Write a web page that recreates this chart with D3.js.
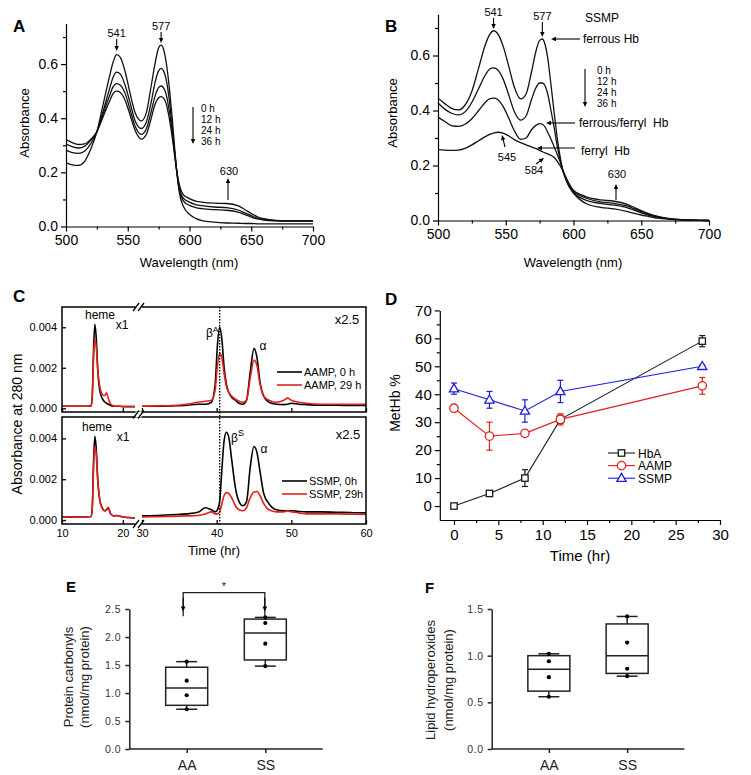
<!DOCTYPE html>
<html><head><meta charset="utf-8">
<script src="https://cdn.jsdelivr.net/npm/d3@7"></script>
<style>body{margin:0;background:#fff}</style>
</head><body><svg id="c" width="751" height="775"></svg>
<script>
// ---------------- DATA ----------------
const wl = [500,505,510,515,520,525,530,535,538,541,544,548,552,556,561,565,569,572,575,577,579,581,583,586,588,590,592,595,600,605,610,620,630,640,645,650,655,660,670,680,700];
const specA_0h  = [.235,.228,.226,.24,.285,.35,.45,.55,.605,.635,.625,.57,.49,.42,.39,.42,.52,.60,.66,.67,.655,.61,.54,.40,.29,.19,.12,.075,.045,.03,.022,.016,.013,.012,.011,.011,.01,.01,.01,.01,.01];
const specA_12h = [.282,.273,.27,.278,.305,.35,.425,.505,.55,.57,.563,.52,.455,.39,.362,.385,.46,.53,.575,.584,.575,.545,.49,.37,.275,.19,.13,.095,.078,.07,.066,.062,.06,.052,.044,.035,.028,.024,.021,.02,.02];
const specA_24h = [.304,.295,.29,.296,.318,.35,.415,.48,.515,.528,.522,.49,.43,.37,.34,.36,.425,.48,.513,.519,.512,.49,.445,.35,.27,.195,.14,.105,.09,.081,.077,.072,.07,.06,.05,.04,.031,.026,.022,.021,.021];
const specA_36h = [.321,.31,.303,.305,.322,.35,.405,.46,.49,.50,.495,.465,.41,.355,.323,.34,.40,.45,.476,.48,.474,.455,.415,.33,.26,.195,.15,.118,.103,.094,.09,.086,.085,.075,.062,.048,.036,.029,.023,.022,.022];
const specB_0h  = [.445,.425,.408,.402,.42,.47,.555,.64,.675,.69,.68,.635,.565,.49,.442,.46,.54,.61,.655,.66,.64,.59,.51,.38,.30,.235,.185,.14,.10,.075,.06,.048,.042,.032,.026,.02,.015,.01,.005,.002,0];
const specB_12h = [.427,.405,.39,.384,.395,.43,.48,.53,.55,.555,.548,.515,.46,.40,.365,.38,.44,.48,.50,.50,.49,.46,.41,.33,.27,.225,.185,.145,.10,.083,.072,.062,.056,.046,.037,.028,.02,.014,.006,.002,0];
const specB_24h = [.376,.36,.345,.342,.35,.37,.40,.43,.442,.445,.44,.415,.375,.33,.295,.30,.33,.345,.352,.35,.34,.32,.30,.265,.24,.215,.185,.15,.105,.09,.08,.068,.062,.052,.042,.032,.023,.016,.007,.003,0];
const specB_36h = [.258,.256,.255,.256,.262,.275,.29,.305,.313,.318,.321,.318,.308,.295,.283,.275,.268,.262,.255,.25,.246,.242,.238,.228,.215,.2,.182,.15,.11,.095,.085,.075,.07,.058,.047,.036,.026,.018,.008,.003,0];
const wlTicks = [500,550,600,650,700];
const wlMinor = [525,575,625,675];
const absTicks = [0,0.2,0.4,0.6];
const absMinor = [0.1,0.3,0.5,0.7];
const timeLabels = ["0 h","12 h","24 h","36 h"];

const tC1 = [10,12,14,14.8,15.0,15.2,15.4,15.6,15.9,16.2,16.6,17.0,17.3,17.6,18.0,18.5,19.0,19.5,20,21,22];
const tC2 = [30,32,34,36,37.5,38.5,39.3,39.8,40.1,40.4,40.7,41.0,41.3,41.6,42.0,42.5,43.0,43.5,44.0,44.5,45.0,45.4,45.8,46.3,47,48,49,49.5,50,51,52,54,56,58,60];
const aamp0_s1  = [.0001,.0001,.0001,.00012,.0008,.003,.00415,.0036,.0018,.0009,.0005,.00032,.00025,.0002,.00014,.0001,.0001,.0001,.00008,.00008,.00008];
const aamp29_s1 = [.0001,.0001,.0001,.00012,.0007,.0026,.0034,.0031,.0018,.0011,.0007,.00062,.00077,.0005,.0002,.00012,.0001,.0001,.0001,.0001,.0001];
const aamp0_s2  = [.0001,.0001,.00012,.00015,.0002,.0002,.0003,.0012,.0031,.004,.0034,.002,.0012,.0008,.00055,.0004,.00025,.0002,.0004,.0018,.00296,.0025,.0013,.0006,.0003,.0002,.00018,.0002,.00025,.0002,.00018,.00015,.00015,.00014,.00014];
const aamp29_s2 = [.0001,.00012,.00014,.0002,.0003,.00035,.0004,.0009,.0021,.0027,.0025,.0017,.0011,.0008,.0006,.00045,.00035,.0003,.0004,.0015,.00238,.0021,.0012,.0006,.0004,.0003,.0004,.0005,.0004,.0003,.00025,.0002,.0002,.0002,.0002];
const ssmp0_s1  = [.00015,.00015,.00015,.00017,.0008,.003,.0041,.0036,.0019,.001,.0006,.00045,.0005,.0006,.0003,.0002,.00022,.00018,.00015,.00012,.0001];
const ssmp29_s1 = [.00015,.00015,.00015,.00017,.0007,.0027,.0036,.0033,.0018,.001,.0006,.00045,.0005,.00062,.0003,.0002,.00022,.00018,.00015,.00012,.0001];
const ssmp0_s2  = [.0002,.00022,.00026,.0003,.00038,.0006,.0005,.0004,.0005,.0009,.0025,.0039,.0043,.0041,.003,.0016,.0009,.0007,.0009,.0026,.0036,.0033,.0024,.0013,.0008,.0005,.00045,.00045,.00045,.00042,.0004,.0004,.00038,.00036,.00035];
const ssmp29_s2 = [.00015,.00016,.00018,.0002,.00022,.0003,.0004,.0003,.0003,.0004,.0008,.0012,.00134,.0013,.0011,.0007,.0005,.00045,.0006,.0011,.00137,.0014,.0012,.0008,.0005,.0004,.0004,.00045,.0004,.00035,.0003,.0003,.0003,.00028,.00027];
const cTicksY = [0,0.002,0.004];
const cTicks1 = [10,20];
const cTicks2 = [30,40,50,60];

const timeD = [0,4,8,12,28];
const hbA = [0,4.5,10,31,59];      const hbAErr = [0,0.5,3,1.5,2];
const aampD = [35,25,26,31,43];    const aampErr = [0.5,5,0.5,2,3];
const ssmpD = [42,38,34,41,50];    const ssmpErr = [2,3,4,4,0.5];
const dTicksX = [0,5,10,15,20,25,30];
const dTicksY = [0,10,20,30,40,50,60,70];

const groups = ["AA","SS"];
const carbonylPts = [[0.71,0.96,1.22,1.56],[1.48,1.88,2.25,2.35]];
const carbonylBox = [[0.71,0.78,1.09,1.46,1.56],[1.48,1.59,2.07,2.32,2.35]];
const lipidPts = [[0.56,0.77,0.94,1.02],[0.78,0.86,1.14,1.42]];
const lipidBox = [[0.56,0.62,0.855,1.0,1.02],[0.78,0.81,1.0,1.34,1.42]];
const eTicks = [0,0.5,1.0,1.5,2.0,2.5];
const fTicks = [0,0.5,1.0,1.5];

// ---------------- HELPERS ----------------
const FONT = "Arial, 'Liberation Sans', Helvetica, sans-serif";
const svg = d3.select("#c");
svg.append("rect").attr("width",751).attr("height",775).attr("fill","#fff");

function txt(g,x,y,s,size,opts={}){
  const t=g.append("text").attr("x",x).attr("y",y).attr("font-family",FONT).attr("font-size",size)
    .attr("fill",opts.fill||"#000").attr("text-anchor",opts.anchor||"start").attr("xml:space","preserve").text(s);
  if(opts.bold) t.attr("font-weight","bold");
  if(opts.rotate) t.attr("transform",`rotate(-90,${x},${y})`);
  return t;
}
function styleAxis(g,size,color="#000",sw=1.2){
  g.attr("font-family",FONT).attr("font-size",size);
  g.selectAll("path,line").attr("stroke",color).attr("stroke-width",sw);
  g.selectAll("text").attr("fill",color);
}
function drawLine(g,xs,ys,x,y,color,w){
  g.append("path").datum(xs.map((d,i)=>[d,ys[i]])).attr("fill","none").attr("stroke",color)
   .attr("stroke-width",w).attr("stroke-linejoin","round")
   .attr("d",d3.line().x(d=>x(d[0])).y(d=>y(d[1])).curve(d3.curveMonotoneX));
}
function arrow(g,x1,y1,x2,y2,hl=5,hw=2.2){
  const a=Math.atan2(y2-y1,x2-x1), c=Math.cos(a), s=Math.sin(a);
  g.append("line").attr("x1",x1).attr("y1",y1).attr("x2",x2-c*hl*0.7).attr("y2",y2-s*hl*0.7)
   .attr("stroke","#000").attr("stroke-width",1.1);
  g.append("path").attr("d",`M${x2},${y2}L${x2-hl*c+hw*s},${y2-hl*s-hw*c}L${x2-hl*c-hw*s},${y2-hl*s+hw*c}Z`).attr("fill","#000");
}

// ---------------- PANEL A ----------------
(function(){
  const g=svg.append("g");
  const x=d3.scaleLinear().domain([500,700]).range([66,313]);
  const y=d3.scaleLinear().domain([0,0.75]).range([226.5,23.5]);
  const gx=g.append("g").attr("transform",`translate(0,${y(0)})`)
    .call(d3.axisBottom(x).tickValues(wlTicks).tickSize(5).tickSizeOuter(0).tickPadding(4).tickFormat(d3.format("d")));
  styleAxis(gx,14);
  const gxm=g.append("g").attr("transform",`translate(0,${y(0)})`).call(d3.axisBottom(x).tickValues(wlMinor).tickSize(3).tickFormat(""));
  gxm.select(".domain").remove(); styleAxis(gxm,14);
  const gy=g.append("g").attr("transform",`translate(${x(500)},0)`)
    .call(d3.axisLeft(y).tickValues(absTicks).tickSize(5).tickSizeOuter(0).tickPadding(3).tickFormat(d3.format(".1f")));
  styleAxis(gy,14);
  const gym=g.append("g").attr("transform",`translate(${x(500)},0)`).call(d3.axisLeft(y).tickValues(absMinor).tickSize(3).tickFormat(""));
  gym.select(".domain").remove(); styleAxis(gym,14);
  [specA_0h,specA_12h,specA_24h,specA_36h].forEach(s=>drawLine(g,wl,s,x,y,"#111",1.3));
  txt(g,189,267,"Wavelength (nm)",13,{anchor:"middle"});
  txt(g,28.5,123,"Absorbance",13,{anchor:"middle",rotate:true});
  txt(g,13,32,"A",17,{bold:true});
  txt(g,x(541),37,"541",11,{anchor:"middle"}); arrow(g,x(541),39,x(541),51);
  txt(g,x(577),30,"577",11,{anchor:"middle"}); arrow(g,x(577),32,x(577),43);
  timeLabels.forEach((s,i)=>txt(g,201,112+i*11,s,10));
  arrow(g,193,107,193,144);
  txt(g,229,175,"630",11,{anchor:"middle"}); arrow(g,228,200,228,178);
})();

// ---------------- PANEL B ----------------
(function(){
  const g=svg.append("g");
  const x=d3.scaleLinear().domain([500,700]).range([438,709]);
  const y=d3.scaleLinear().domain([0,0.75]).range([220.5,14.25]);
  const gx=g.append("g").attr("transform",`translate(0,${y(0)})`)
    .call(d3.axisBottom(x).tickValues(wlTicks).tickSize(5).tickSizeOuter(0).tickPadding(4).tickFormat(d3.format("d")));
  styleAxis(gx,14);
  const gxm=g.append("g").attr("transform",`translate(0,${y(0)})`).call(d3.axisBottom(x).tickValues(wlMinor).tickSize(3).tickFormat(""));
  gxm.select(".domain").remove(); styleAxis(gxm,14);
  const gy=g.append("g").attr("transform",`translate(${x(500)},0)`)
    .call(d3.axisLeft(y).tickValues(absTicks).tickSize(5).tickSizeOuter(0).tickPadding(3).tickFormat(d3.format(".1f")));
  styleAxis(gy,14);
  const gym=g.append("g").attr("transform",`translate(${x(500)},0)`).call(d3.axisLeft(y).tickValues(absMinor).tickSize(3).tickFormat(""));
  gym.select(".domain").remove(); styleAxis(gym,14);
  [specB_0h,specB_12h,specB_24h,specB_36h].forEach(s=>drawLine(g,wl,s,x,y,"#111",1.3));
  txt(g,573,267,"Wavelength (nm)",13,{anchor:"middle"});
  txt(g,397,113,"Absorbance",13,{anchor:"middle",rotate:true});
  txt(g,385,32,"B",17,{bold:true});
  txt(g,x(541),16,"541",11,{anchor:"middle"}); arrow(g,x(541),18,x(541),29);
  txt(g,x(577),20,"577",11,{anchor:"middle"}); arrow(g,x(577),22,x(577),37);
  txt(g,585,22,"SSMP",12);
  txt(g,583,43,"ferrous Hb",12); arrow(g,580,39,551,39);
  timeLabels.forEach((s,i)=>txt(g,597,74+i*11,s,10));
  arrow(g,585,69,585,107);
  txt(g,579,127,"ferrous/ferryl  Hb",12); arrow(g,575,123,546,123);
  txt(g,581,155,"ferryl  Hb",12); arrow(g,575,148,537,148);
  txt(g,507,161,"545",11,{anchor:"middle"}); arrow(g,505,147,502,135);
  txt(g,534,174,"584",11,{anchor:"middle"}); arrow(g,536,164,544,158);
  txt(g,617,178,"630",11,{anchor:"middle"}); arrow(g,616,200,616,184);
})();

// ---------------- PANEL C ----------------
(function(){
  const g=svg.append("g");
  const x1=d3.scaleLinear().domain([10,22]).range([62,135]);
  const x2=d3.scaleLinear().domain([30,60]).range([142,366]);
  const panels=[
    {top:307,bot:412,y:d3.scaleLinear().domain([0,0.005]).range([408.3,307]),
     s1:[aamp0_s1,aamp29_s1],s2:[aamp0_s2,aamp29_s2],leg:["AAMP, 0 h","AAMP, 29 h"],legX:277,legY:[372,385]},
    {top:417,bot:524,y:d3.scaleLinear().domain([0,0.005]).range([520,418]),
     s1:[ssmp0_s1,ssmp29_s1],s2:[ssmp0_s2,ssmp29_s2],leg:["SSMP, 0h","SSMP, 29h"],legX:282,legY:[481,494]}
  ];
  const RED="#e3201b";
  panels.forEach((p,pi)=>{
    const y=p.y;
    drawLine(g,tC1,p.s1[0],x1,y,"#000",1.6);
    drawLine(g,tC2,p.s2[0],x2,y,"#000",1.6);
    drawLine(g,tC1,p.s1[1],x1,y,RED,1.6);
    drawLine(g,tC2,p.s2[1],x2,y,RED,1.6);
    g.append("rect").attr("x",62).attr("y",p.top).attr("width",304).attr("height",p.bot-p.top)
      .attr("fill","none").attr("stroke","#000").attr("stroke-width",1.5);
    const gy=g.append("g").attr("transform","translate(62,0)")
      .call(d3.axisLeft(y).tickValues(cTicksY).tickSize(-4).tickPadding(5).tickFormat(d3.format(".3f")));
    gy.select(".domain").remove(); styleAxis(gy,11,"#000",1.3);
    const gb1=g.append("g").attr("transform",`translate(0,${p.bot})`).call(d3.axisBottom(x1).tickValues(cTicks1).tickSize(-4).tickPadding(5).tickFormat(pi===1?d3.format("d"):""));
    gb1.select(".domain").remove(); styleAxis(gb1,11,"#000",1.3);
    const gb2=g.append("g").attr("transform",`translate(0,${p.bot})`).call(d3.axisBottom(x2).tickValues(cTicks2).tickSize(-4).tickPadding(5).tickFormat(pi===1?d3.format("d"):""));
    gb2.select(".domain").remove(); styleAxis(gb2,11,"#000",1.3);
    g.append("line").attr("x1",p.legX).attr("x2",p.legX+25).attr("y1",p.legY[0]).attr("y2",p.legY[0]).attr("stroke","#000").attr("stroke-width",1.6);
    g.append("line").attr("x1",p.legX).attr("x2",p.legX+25).attr("y1",p.legY[1]).attr("y2",p.legY[1]).attr("stroke",RED).attr("stroke-width",1.6);
    txt(g,p.legX+27,p.legY[0]+4,p.leg[0],11);
    txt(g,p.legX+27,p.legY[1]+4,p.leg[1],11);
  });
  [[138.5,307],[138.5,414.5],[138.5,524]].forEach(([cx,cy])=>{
    g.append("rect").attr("x",cx-3).attr("y",cy-3).attr("width",6).attr("height",6).attr("fill","#fff");
    [-2.5,2.5].forEach(o=>g.append("line").attr("x1",cx+o-3).attr("y1",cy+4).attr("x2",cx+o+3).attr("y2",cy-4).attr("stroke","#000").attr("stroke-width",1.3));
  });
  g.append("line").attr("x1",x2(40.4)).attr("x2",x2(40.4)).attr("y1",307).attr("y2",524)
    .attr("stroke","#000").attr("stroke-width",1.4).attr("stroke-dasharray","1.5,1.5");
  txt(g,100,319,"heme",12,{anchor:"middle"}); txt(g,122,329,"x1",12,{anchor:"middle"});
  txt(g,347,324,"x2.5",13,{anchor:"middle"});
  const bA=txt(g,206,337,"β",12); bA.append("tspan").attr("font-size",8).attr("dy",-5).text("A");
  txt(g,263,350,"α",12,{anchor:"middle"});
  txt(g,97,431,"heme",12,{anchor:"middle"}); txt(g,123,441,"x1",12,{anchor:"middle"});
  txt(g,348,439,"x2.5",13,{anchor:"middle"});
  const bS=txt(g,231,442,"β",12); bS.append("tspan").attr("font-size",9).attr("dy",-6).text("S");
  txt(g,264,453,"α",12,{anchor:"middle"});
  txt(g,214,555,"Time (hr)",13,{anchor:"middle"});
  txt(g,22,424,"Absorbance at 280 nm",14,{anchor:"middle",rotate:true});
  txt(g,13,302,"C",17,{bold:true});
})();

// ---------------- PANEL D ----------------
(function(){
  const g=svg.append("g");
  const x=d3.scaleLinear().domain([-1.6,30]).range([439.8,720]);
  const y=d3.scaleLinear().domain([-5,70]).range([520,310.4]);
  const gx=g.append("g").attr("transform",`translate(0,${y(-5)})`)
    .call(d3.axisBottom(x).tickValues(dTicksX).tickSize(5).tickSizeOuter(0).tickPadding(4));
  styleAxis(gx,15);
  const gxm=g.append("g").attr("transform",`translate(0,${y(-5)})`).call(d3.axisBottom(x).tickValues(dTicksX.slice(0,-1).map(d=>d+2.5)).tickSize(3).tickFormat(""));
  gxm.select(".domain").remove(); styleAxis(gxm,15);
  const gy=g.append("g").attr("transform",`translate(${x(-1.6)},0)`)
    .call(d3.axisLeft(y).tickValues(dTicksY).tickSize(5).tickSizeOuter(0).tickPadding(3));
  styleAxis(gy,15);
  const gym=g.append("g").attr("transform",`translate(${x(-1.6)},0)`).call(d3.axisLeft(y).tickValues(dTicksY.slice(0,-1).map(d=>d+5)).tickSize(3).tickFormat(""));
  gym.select(".domain").remove(); styleAxis(gym,15);
  const series=[
    {v:hbA,e:hbAErr,c:"#1a1a1a",m:"sq",n:"HbA"},
    {v:aampD,e:aampErr,c:"#e3201b",m:"ci",n:"AAMP"},
    {v:ssmpD,e:ssmpErr,c:"#1c1ce0",m:"tr",n:"SSMP"}];
  function marker(gg,cx,cy,m,c){
    if(m==="sq") gg.append("rect").attr("x",cx-3.2).attr("y",cy-3.2).attr("width",6.4).attr("height",6.4).attr("fill","#fff").attr("stroke",c).attr("stroke-width",1.3);
    else if(m==="ci") gg.append("circle").attr("cx",cx).attr("cy",cy).attr("r",4.2).attr("fill","#fff").attr("stroke",c).attr("stroke-width",1.3);
    else gg.append("path").attr("d",`M${cx},${cy-4.8}L${cx+4.6},${cy+3.2}L${cx-4.6},${cy+3.2}Z`).attr("fill","#fff").attr("stroke",c).attr("stroke-width",1.3);
  }
  series.forEach(s=>{
    g.append("path").datum(timeD.map((t,i)=>[t,s.v[i]])).attr("fill","none").attr("stroke",s.c).attr("stroke-width",1.1)
      .attr("d",d3.line().x(d=>x(d[0])).y(d=>y(d[1])));
    timeD.forEach((t,i)=>{
      if(s.e[i]>0){
        const cx=x(t), y1=y(s.v[i]-s.e[i]), y2=y(s.v[i]+s.e[i]);
        g.append("line").attr("x1",cx).attr("x2",cx).attr("y1",y1).attr("y2",y2).attr("stroke",s.c).attr("stroke-width",1.2);
        [y1,y2].forEach(yy=>g.append("line").attr("x1",cx-3).attr("x2",cx+3).attr("y1",yy).attr("y2",yy).attr("stroke",s.c).attr("stroke-width",1.2));
      }
    });
    timeD.forEach((t,i)=>marker(g,x(t),y(s.v[i]),s.m,s.c));
  });
  series.forEach((s,i)=>{
    const ly=453+i*12.6;
    g.append("line").attr("x1",608).attr("x2",635).attr("y1",ly).attr("y2",ly).attr("stroke",s.c).attr("stroke-width",1.1);
    marker(g,621.5,ly,s.m,s.c);
    txt(g,638,ly+4.5,s.n,12);
  });
  txt(g,580,561,"Time (hr)",15,{anchor:"middle"});
  txt(g,400,403,"MetHb %",14,{anchor:"middle",rotate:true});
  txt(g,385,305,"D",17,{bold:true});
})();

// ---------------- PANELS E, F ----------------
function boxPanel(opts){
  const g=svg.append("g");
  const x=d3.scalePoint().domain(groups).range(opts.xr).padding(0.73);
  const y=d3.scaleLinear().domain([0,opts.max]).range([749,609]);
  const gy=g.append("g").attr("transform",`translate(${opts.xr[0]},0)`)
    .call(d3.axisLeft(y).tickValues(opts.ticks).tickSize(4).tickSizeOuter(0).tickPadding(4).tickFormat(d3.format(".1f")));
  styleAxis(gy,10.5,"#222",1.5);
  gy.selectAll("text").attr("letter-spacing","0.6px").attr("fill","#333");
  const gx=g.append("g").attr("transform","translate(0,749)")
    .call(d3.axisBottom(x).tickSize(4).tickSizeOuter(0).tickPadding(7));
  styleAxis(gx,14,"#222",1.5);
  gx.select(".domain").attr("d",`M${opts.xr[0]},0H${opts.xr[1]}`);
  groups.forEach((grp,i)=>{
    const cx=x(grp), b=opts.box[i], hw=21, cw=10.5;
    const L=(x1,y1,x2,y2)=>g.append("line").attr("x1",x1).attr("y1",y1).attr("x2",x2).attr("y2",y2).attr("stroke","#222").attr("stroke-width",1.5);
    L(cx,y(b[0]),cx,y(b[1])); L(cx,y(b[3]),cx,y(b[4]));
    L(cx-cw,y(b[0]),cx+cw,y(b[0])); L(cx-cw,y(b[4]),cx+cw,y(b[4]));
    g.append("rect").attr("x",cx-hw).attr("y",y(b[3])).attr("width",2*hw).attr("height",y(b[1])-y(b[3]))
      .attr("fill","none").attr("stroke","#222").attr("stroke-width",1.5);
    L(cx-hw,y(b[2]),cx+hw,y(b[2]));
    opts.pts[i].forEach(v=>g.append("circle").attr("cx",cx).attr("cy",y(v)).attr("r",2.1).attr("fill","#000"));
  });
  return {g,x,y};
}
(function(){
  const {g,x,y}=boxPanel({xr:[129.3,322.7],max:2.5,ticks:eTicks,box:carbonylBox,pts:carbonylPts});
  txt(g,72.5,677,"Protein carbonyls",13,{anchor:"middle",rotate:true,fill:"#222"});
  txt(g,89,677,"(nmol/mg protein)",13,{anchor:"middle",rotate:true,fill:"#222"});
  txt(g,66,592,"E",15,{bold:true});
  const xa=x("AA")-3.5, xs=x("SS")-0.5, yt=592.7;
  g.append("path").attr("d",`M${xa},${y(2.37)}V${yt}H${xs}V${y(2.37)}`).attr("fill","none").attr("stroke","#222").attr("stroke-width",1.3);
  arrow(g,xa,yt+5,xa,611.5,5,2.3); arrow(g,xs,yt+5,xs,611.5,5,2.3);
  txt(g,(xa+xs)/2,590,"*",11,{anchor:"middle",fill:"#222"});
})();
(function(){
  const {g}=boxPanel({xr:[491.7,684.3],max:1.5,ticks:fTicks,box:lipidBox,pts:lipidPts});
  txt(g,434.5,680,"Lipid hydroperoxides",13,{anchor:"middle",rotate:true,fill:"#222"});
  txt(g,453,680,"(nmol/mg protein)",13,{anchor:"middle",rotate:true,fill:"#222"});
  txt(g,425,593,"F",15,{bold:true});
})();
</script></body></html>
